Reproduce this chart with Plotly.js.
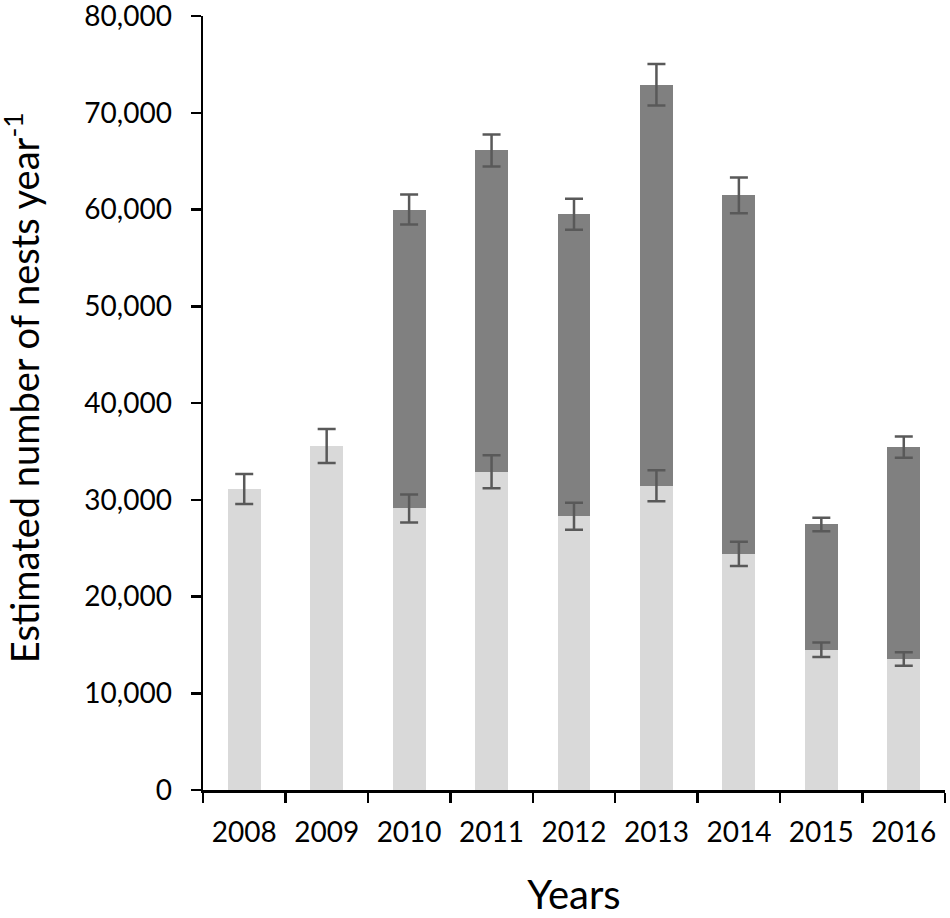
<!DOCTYPE html>
<html>
<head>
<meta charset="utf-8">
<script src="https://cdn.plot.ly/plotly-3.0.1.min.js"></script>
<style>
  body { margin: 0; background: #fff; }
  #nests { width: 950px; height: 918px; }
</style>
</head>
<body>
<div id="nests"></div>
<script>
// years on the x axis
var years = ['2008', '2009', '2010', '2011', '2012', '2013', '2014', '2015', '2016'];

// lower (light grey) segment and its error
var lowerNests = [31100, 35550, 29100, 32900, 28300, 31450, 24400, 14500, 13550];
var lowerErr   = [1550, 1750, 1450, 1700, 1400, 1600, 1250, 750, 700];

// upper (dark grey) segment, stacked on the lower one, and error at the stack top
var upperNests = [null, null, 30900, 33200, 31200, 41450, 37050, 12950, 21900];
var upperErr   = [null, null, 1550, 1650, 1600, 2150, 1850, 700, 1100];

// stack tops, used to hang the upper error bars
var stackTop = years.map(function (y, i) {
  return upperNests[i] === null ? null : lowerNests[i] + upperNests[i];
});

var errStyle = { color: '#595959', thickness: 2.5, width: 9 };

var data = [
  {
    x: years, y: lowerNests, type: 'bar',
    marker: { color: '#d9d9d9' }
  },
  {
    x: years, y: upperNests, type: 'bar',
    marker: { color: '#808080' }
  },
  // error bars on scatter traces so they sit above both bar layers
  {
    x: years, y: lowerNests, type: 'scatter', mode: 'markers',
    marker: { opacity: 0 },
    error_y: Object.assign({ type: 'data', array: lowerErr, visible: true }, errStyle)
  },
  {
    x: years, y: stackTop, type: 'scatter', mode: 'markers',
    marker: { opacity: 0 },
    error_y: Object.assign({ type: 'data', array: upperErr, visible: true }, errStyle)
  }
];

var layout = {
  width: 950,
  height: 918,
  showlegend: false,
  barmode: 'stack',
  bargap: 0.6,
  paper_bgcolor: '#fff',
  plot_bgcolor: '#fff',
  font: { family: 'Lato, "Open Sans", sans-serif', color: '#000', size: 28 },
  margin: { l: 203, r: 5, t: 16, b: 128, pad: 0 },
  xaxis: {
    type: 'category',
    showline: true, linecolor: '#000', linewidth: 2.5,
    ticks: 'outside', tickson: 'boundaries', ticklen: 10, tickwidth: 2.5, tickcolor: '#000',
    showgrid: false, zeroline: false,
    ticklabelstandoff: 16,
    tickfont: { size: 28 },
    title: { text: 'Years', font: { size: 40 }, standoff: 36 }
  },
  yaxis: {
    range: [0, 80000], dtick: 10000, tickformat: ',d',
    showline: true, linecolor: '#000', linewidth: 2.5,
    ticks: 'outside', ticklen: 10, tickwidth: 2.5, tickcolor: '#000',
    showgrid: false, zeroline: false,
    ticklabelstandoff: 13,
    ticklabeloverflow: 'allow',
    tickfont: { size: 28 }
  },
  // y title placed as a rotated annotation so it can sit a little above centre, as in the original
  annotations: [{
    text: 'Estimated number of nests year<sup>-1</sup>',
    textangle: -90,
    xref: 'paper', yref: 'paper',
    x: -181 / 742, y: (789.5 - 388) / 773.5,
    xanchor: 'center', yanchor: 'middle',
    showarrow: false,
    font: { size: 38, color: '#000' }
  }]
};

Plotly.newPlot('nests', data, layout, { staticPlot: true });
</script>
</body>
</html>
